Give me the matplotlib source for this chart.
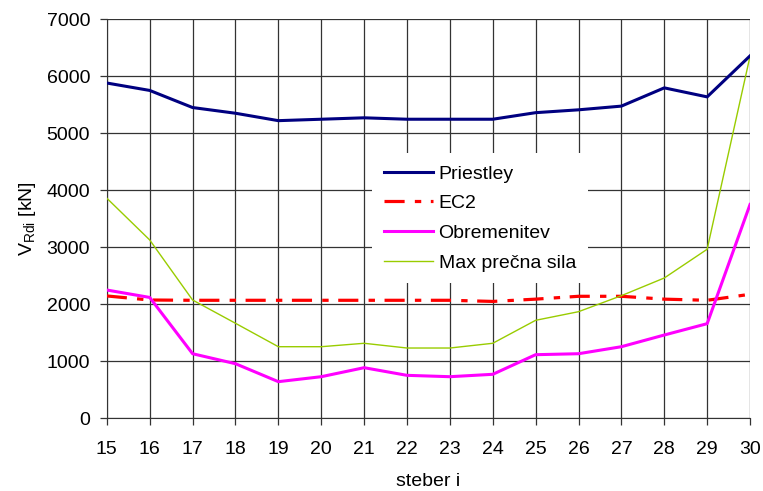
import matplotlib
matplotlib.use("Agg")
import matplotlib.pyplot as plt

plt.rcParams['font.family'] = ['Liberation Sans', 'DejaVu Sans']
plt.rcParams['mathtext.fontset'] = 'custom'
plt.rcParams['mathtext.rm'] = 'Liberation Sans'

steber = list(range(15, 31))
priestley = [5880, 5750, 5450, 5350, 5220, 5245, 5270, 5245, 5245, 5245, 5360, 5410, 5475, 5795, 5637, 6356]
ec2 = [2146, 2075, 2070, 2070, 2070, 2070, 2070, 2070, 2070, 2050, 2090, 2140, 2140, 2090, 2070, 2175]
obremenitev = [2250, 2120, 1133, 958, 643, 730, 888, 754, 730, 772, 1116, 1133, 1256, 1461, 1660, 3750]
max_precna = [3860, 3128, 2075, 1667, 1256, 1256, 1316, 1233, 1233, 1316, 1719, 1870, 2151, 2461, 2965, 6350]

FS = 14

fig = plt.figure(figsize=(7.63, 4.91), dpi=100)
ax = fig.add_axes([0.140, 0.148, 0.843, 0.813])

ax.plot(steber, priestley, color='#000080', lw=2.2, label='Priestley', zorder=4)
ax.plot(steber, ec2, color='#FF0000', lw=2.3, dashes=(6.3, 3.2, 2.0, 3.0), label='EC2', zorder=3)
ax.plot(steber, obremenitev, color='#FF00FF', lw=2.2, label='Obremenitev', zorder=3)
ax.plot(steber, max_precna, color='#99CC00', lw=1.0, label='Max prečna sila', zorder=3)

ax.set_xlim(15, 30)
ax.set_ylim(0, 7000)
ax.set_xticks(steber)
ax.set_yticks(range(0, 7001, 1000))
ax.grid(True, color='#333333', lw=0.9)
ax.set_axisbelow(True)
for s in ['top', 'right']:
    ax.spines[s].set_visible(False)
ax.spines['left'].set_color('#333333')
ax.spines['bottom'].set_color('#333333')
ax.tick_params(axis='both', direction='out', length=5, width=0.9, color='#333333',
               labelsize=FS)
ax.tick_params(axis='y', pad=7)
ax.tick_params(axis='x', pad=11.5)

ax.set_xlabel('steber i', fontsize=FS, labelpad=10.5)
ax.set_ylabel(r'V$_{\mathrm{Rdi}}$ [kN]', fontsize=FS, labelpad=6.5)

leg = ax.legend(loc='upper left', bbox_to_anchor=(0.413, 0.664), borderaxespad=0,
                frameon=True, fancybox=False, fontsize=FS, handlelength=2.5,
                handletextpad=0.3, labelspacing=0.62, borderpad=0.6)
leg.get_frame().set_edgecolor('white')
leg.get_frame().set_facecolor('white')
leg.get_frame().set_alpha(1)
leg.get_frame().set_linewidth(0)
leg.set_zorder(2.5)

fig.savefig('out.png', dpi=100)
